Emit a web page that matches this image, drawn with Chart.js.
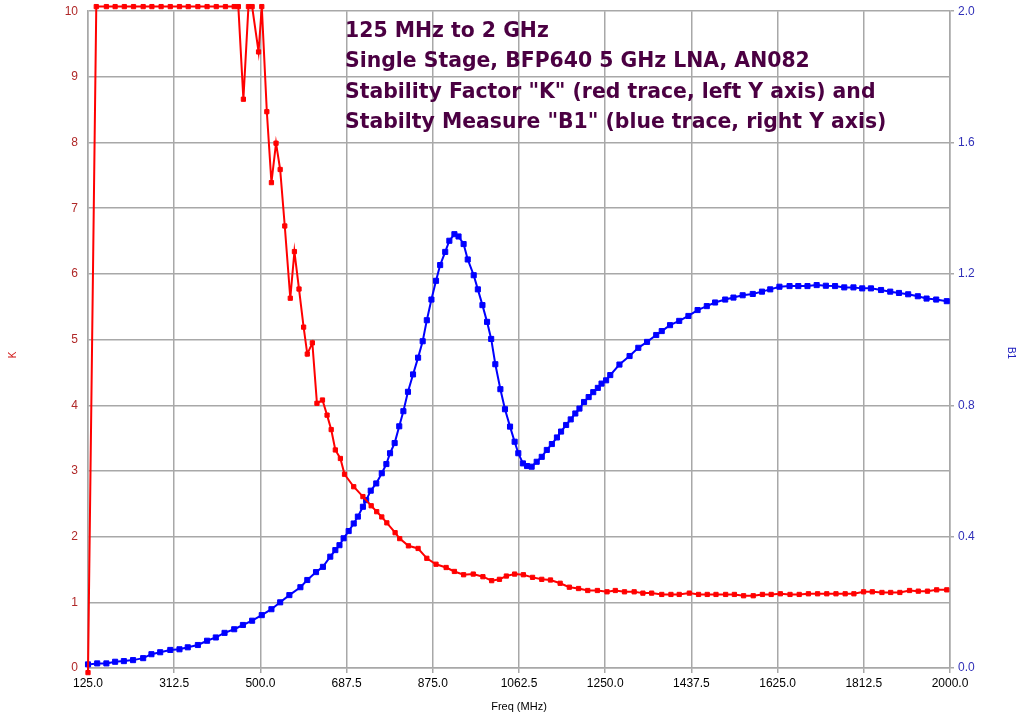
<!DOCTYPE html>
<html>
<head>
<meta charset="utf-8">
<script src="https://cdn.jsdelivr.net/npm/chart.js@4.4.0/dist/chart.umd.min.js"></script>
<style>
body { margin: 0; background: #fff; }
#wrap { position: relative; width: 1016px; height: 714px; }
#note {
    position: absolute; left: 345px; top: 15px;
    font: bold 20.4px "DejaVu Sans", sans-serif; line-height: 30.3px;
    color: #4b0042; white-space: nowrap;
}
</style>
</head>
<body>
<div id="wrap">
<canvas id="myChart" width="1016" height="714"></canvas>
<div id="note">125 MHz to 2 GHz<br>Single Stage, BFP640 5 GHz LNA, AN082<br>Stability Factor "K" (red trace, left Y axis) and<br>Stabilty Measure "B1" (blue trace, right Y axis)</div>
</div>
<script>
// x axis ticks (MHz)
var xTicks = [125, 312.5, 500, 687.5, 875, 1062.5, 1250, 1437.5, 1625, 1812.5, 2000];

// stability factor K (red, left axis)
var kFreq = [125,
    143,165,184,204,224,245,264,284,304,324,343,364,384,404,424,443,
    452,463,474,482,496,503,514,524,534,543,
    553,565,574,584,594,602,613,623,635,645,
    654,663,674,683,703,723,741,753,764,775,
    793,803,822,843,862,882,904,922,942,963,
    984,1003,1020,1035,1053,1072,1092,1112,1131,1152,
    1172,1192,1212,1233,1254,1272,1292,1313,1332,1351,
    1373,1393,1411,1433,1453,1472,1491,1512,1531,1551,
    1572,1592,1611,1631,1652,1672,1692,1712,1732,1752,
    1772,1791,1812,1831,1852,1871,1891,1912,1931,1951,
    1971,1993];
var kValues = [-0.07,
    10.07,10.07,10.07,10.07,10.07,10.07,10.07,10.07,10.07,10.07,10.07,10.07,10.07,10.07,10.07,10.07,
    10.07,8.66,10.07,10.07,9.38,10.07,8.47,7.39,7.99,7.59,
    6.73,5.63,6.34,5.77,5.19,4.78,4.95,4.03,4.08,3.85,
    3.63,3.32,3.19,2.95,2.76,2.61,2.47,2.38,2.30,2.21,
    2.06,1.97,1.86,1.82,1.67,1.58,1.53,1.47,1.42,1.43,
    1.39,1.33,1.35,1.40,1.43,1.42,1.38,1.35,1.34,1.29,
    1.23,1.21,1.18,1.18,1.16,1.18,1.16,1.16,1.14,1.14,
    1.12,1.12,1.12,1.14,1.12,1.12,1.12,1.12,1.12,1.10,
    1.10,1.12,1.12,1.13,1.12,1.12,1.13,1.13,1.13,1.13,
    1.13,1.13,1.16,1.16,1.15,1.15,1.15,1.18,1.17,1.17,
    1.19,1.19];

// stability measure B1 (blue, right axis)
var b1Freq = [125,145,165,184,203,223,245,263,282,304,
    324,342,364,384,403,422,443,462,482,503,
    524,543,563,587,602,621,636,652,663,672,
    681,692,703,712,723,730,740,752,764,774,
    782,792,802,811,821,832,843,853,862,872,
    882,891,902,911,922,931,942,951,964,973,
    983,993,1002,1011,1022,1032,1043,1053,1061,1071,
    1080,1090,1101,1112,1123,1134,1145,1154,1165,1175,
    1185,1194,1204,1214,1224,1234,1242,1252,1261,1281,
    1303,1322,1341,1361,1373,1391,1411,1431,1451,1471,
    1489,1511,1529,1549,1571,1591,1609,1629,1651,1670,
    1690,1710,1730,1750,1770,1790,1809,1828,1850,1870,
    1889,1909,1930,1949,1970,1993];
var b1Values = [0.011,0.014,0.014,0.019,0.021,0.024,0.030,0.042,0.048,0.055,
    0.057,0.063,0.070,0.083,0.093,0.107,0.118,0.131,0.144,0.161,
    0.179,0.200,0.222,0.246,0.268,0.292,0.308,0.339,0.359,0.374,
    0.395,0.417,0.440,0.461,0.491,0.511,0.540,0.562,0.593,0.621,
    0.654,0.685,0.736,0.782,0.841,0.894,0.945,0.995,1.059,1.122,
    1.179,1.227,1.267,1.301,1.321,1.314,1.291,1.244,1.196,1.153,
    1.105,1.054,1.002,0.925,0.849,0.788,0.735,0.689,0.654,0.623,
    0.615,0.613,0.628,0.643,0.664,0.682,0.702,0.720,0.740,0.757,
    0.775,0.790,0.810,0.825,0.840,0.853,0.866,0.876,0.892,0.924,
    0.950,0.975,0.993,1.014,1.026,1.044,1.057,1.072,1.090,1.102,
    1.113,1.122,1.128,1.135,1.139,1.146,1.153,1.161,1.163,1.163,
    1.163,1.166,1.164,1.163,1.159,1.159,1.156,1.156,1.151,1.146,
    1.142,1.138,1.132,1.125,1.122,1.117];

function pairs(xs, ys) {
    var out = [];
    for (var i = 0; i < xs.length; i++) out.push({x: xs[i], y: ys[i]});
    return out;
}

var gridColor = '#a8a8a8';

// side titles of the two y axes, centred on the canvas like the original
var sideTitles = {
    id: 'sideTitles',
    afterDraw: function(chart) {
        var ctx = chart.ctx;
        ctx.save();
        ctx.font = '10px "Liberation Sans", Arial, sans-serif';
        ctx.textAlign = 'center';
        ctx.textBaseline = 'middle';
        ctx.fillStyle = '#d01010';
        ctx.translate(13, 355);
        ctx.rotate(-Math.PI / 2);
        ctx.fillText('K', 0, 0);
        ctx.restore();
        ctx.save();
        ctx.font = '10px "Liberation Sans", Arial, sans-serif';
        ctx.textAlign = 'center';
        ctx.textBaseline = 'middle';
        ctx.fillStyle = '#2020c0';
        ctx.translate(1011, 353);
        ctx.rotate(Math.PI / 2);
        ctx.fillText('B1', 0, 0);
        ctx.restore();
    }
};

var ctx = document.getElementById('myChart').getContext('2d');
var chart = new Chart(ctx, {
    type: 'line',
    data: {
        datasets: [{
            label: 'K',
            data: pairs(kFreq, kValues),
            yAxisID: 'y',
            borderColor: '#ff0000',
            backgroundColor: '#ff0000',
            borderWidth: 2,
            pointStyle: 'rect',
            pointRadius: 3,
            pointBorderWidth: 1,
            lineTension: 0,
            clip: false
        }, {
            label: 'B1',
            data: pairs(b1Freq, b1Values),
            yAxisID: 'y2',
            borderColor: '#0000ff',
            backgroundColor: '#0000ff',
            borderWidth: 2,
            pointStyle: 'rect',
            pointRadius: 3.6,
            pointBorderWidth: 1,
            lineTension: 0,
            clip: false
        }]
    },
    options: {
        responsive: false,
        animation: false,
        layout: { padding: { top: 11, left: 0, right: 0, bottom: 0 } },
        plugins: {
            legend: { display: false },
            tooltip: { enabled: false }
        },
        scales: {
            x: {
                type: 'linear',
                min: 125,
                max: 2000,
                afterBuildTicks: function(scale) {
                    scale.ticks = xTicks.map(function(v) { return {value: v}; });
                },
                afterFit: function(scale) { scale.height = 46; },
                ticks: {
                    color: '#000',
                    font: { family: '"Liberation Sans", Arial, sans-serif', size: 12 },
                    padding: 3,
                    maxRotation: 0,
                    callback: function(v) { return v.toFixed(1); }
                },
                grid: { color: gridColor, lineWidth: 1.5, tickLength: 5 },
                border: { color: gridColor, width: 1.5 },
                title: {
                    display: true,
                    text: 'Freq (MHz)',
                    color: '#000',
                    font: { family: '"Liberation Sans", Arial, sans-serif', size: 11 },
                    padding: { top: 2, bottom: 0 }
                }
            },
            y: {
                position: 'left',
                min: 0,
                max: 10,
                afterFit: function(scale) { scale.width = 88; },
                ticks: {
                    stepSize: 1,
                    color: '#b02828',
                    font: { family: '"Liberation Sans", Arial, sans-serif', size: 12 },
                    padding: 4
                },
                grid: { color: gridColor, lineWidth: 1.5, tickLength: 6, tickColor: 'rgba(0,0,0,0)' },
                border: { color: gridColor, width: 1.5 }
            },
            y2: {
                position: 'right',
                min: 0,
                max: 2,
                afterFit: function(scale) { scale.width = 66; },
                ticks: {
                    stepSize: 0.4,
                    color: '#3030b8',
                    font: { family: '"Liberation Sans", Arial, sans-serif', size: 12 },
                    padding: 4,
                    callback: function(v) { return v.toFixed(1); }
                },
                grid: { color: gridColor, lineWidth: 1.5, drawOnChartArea: false, tickLength: 4 },
                border: { color: gridColor, width: 1.5 }
            }
        }
    },
    plugins: [sideTitles]
});
</script>
</body>
</html>
